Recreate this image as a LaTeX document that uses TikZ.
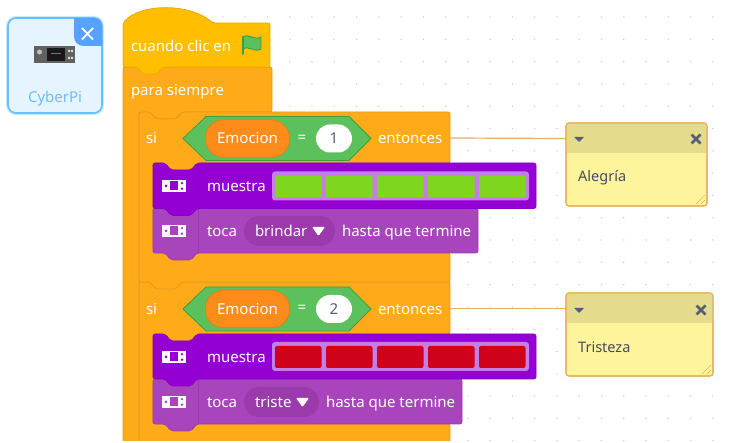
\documentclass[tikz,border=0pt]{standalone}
\usepackage{fontspec}
\setmainfont{Noto Sans}
\definecolor{ctrl}{HTML}{FFAB19}
\definecolor{ctrlb}{HTML}{DD9A1F}
\definecolor{hat}{HTML}{FFBF00}
\definecolor{hatb}{HTML}{E6AC00}
\definecolor{purp}{HTML}{9400D3}
\definecolor{purpd}{HTML}{8A00C4}
\definecolor{lilac}{HTML}{A945BC}
\definecolor{lilacd}{HTML}{9A3AAB}
\definecolor{barbg}{HTML}{C57EE6}
\definecolor{ledg}{HTML}{7FD61E}
\definecolor{ledr}{HTML}{D0021B}
\definecolor{hexf}{HTML}{5CC05C}
\definecolor{hexb}{HTML}{3E9E3E}
\definecolor{varf}{HTML}{FF8C1A}
\definecolor{varb}{HTML}{E67E17}
\definecolor{notef}{HTML}{FEF49C}
\definecolor{noteh}{HTML}{E4DB8C}
\definecolor{noteb}{HTML}{E3B25E}
\definecolor{inkc}{HTML}{575E75}
\definecolor{cardf}{HTML}{E6F4FF}
\definecolor{cardb}{HTML}{66BFFF}
\tikzset{
  blocktxt/.style={anchor=base west,inner sep=0pt,outer sep=0pt,text=white,font=\fontsize{15}{18}\selectfont},
  notetxt/.style={anchor=base west,inner sep=0pt,text=inkc!80!black,font=\fontsize{14.5}{16}\selectfont},
  ctrlblock/.style={fill=ctrl,draw=ctrlb,line width=.8pt,rounded corners=2pt},
  purpblock/.style={fill=purp,draw=purpd,line width=.6pt,rounded corners=2pt},
  lilacblock/.style={fill=lilac,draw=lilacd,line width=.6pt,rounded corners=2pt},
  link/.style={draw=noteb,line width=1.2pt},
  noteheader/.style={rectangle,draw=none,fill=noteh,inner sep=0pt,outer sep=0pt},
  ledcell/.style={rounded corners=2pt,draw=none},
  griddot/.style={fill=black!22,draw=none}
}
\newcommand\devicon[3]{%
  \fill[white] (#1,#2) rectangle ++(24,12);
  \fill[#3] (#1+8,#2+1.5) rectangle ++(8,9);
  \fill[#3] (#1+4,#2+6) circle (1.5);
  \fill[#3] (#1+20,#2+3.2) circle (1.3);
  \fill[#3] (#1+20,#2+8.8) circle (1.3);
}
\newcommand\ledbar[2]{%
  \fill[barbg,rounded corners=3pt] (272,#1) rectangle (529,#1+29);
  \foreach \lx in {275,326,377,428,479}
    \fill[#2,ledcell] (\lx,#1+4) rectangle ++(46.5,22);
}
\newcommand\condition[3]{%
  \filldraw[fill=hexf,draw=hexb,line width=.8pt] (183,#1) -- (206,#1-22) -- (349,#1-22) -- (371,#1) -- (349,#1+22) -- (206,#1+22) -- cycle;
  \node[rectangle,rounded corners=18pt,fill=varf,draw=varb,line width=.8pt,minimum width=84pt,minimum height=37.5pt,inner sep=0pt,text=white,font=\fontsize{15}{18}\selectfont] (#3var) at (247.5,#1) {Emocion};
  \node[inner sep=0pt,text=white,font=\fontsize{15}{18}\selectfont] (#3eq) at (302,#1) {=};
  \node[rectangle,rounded corners=14pt,fill=white,minimum width=36pt,minimum height=28pt,inner sep=0pt,text=inkc,font=\fontsize{15}{18}\selectfont] (#3val) at (334,#1) {#2};
}
\newcommand\notemarks[2]{%
  \fill[inkc,rounded corners=.5pt] (574,#2-2) -- (584,#2-2) -- (579,#2+3) -- cycle;
  \draw[inkc,line width=2.6pt] (#1-4.5,#2-4.5) -- (#1+4.5,#2+4.5) (#1-4.5,#2+4.5) -- (#1+4.5,#2-4.5);
}
\begin{document}
\begin{tikzpicture}[x=1pt,y=-1pt]
\clip (0,0) rectangle (729,443);
\fill[white] (0,0) rectangle (729,443);
% workspace dots
\foreach \i in {10,...,32} \foreach \j in {0,...,19}
  \fill[griddot] (0.2+22.27*\i,17+22.3*\j) circle (.75);
% card
\draw[cardb!35!white,line width=4pt,rounded corners=8pt] (8,18) rectangle (102,113);
\filldraw[fill=cardf,draw=cardb,line width=1.6pt,rounded corners=8pt] (8,18) rectangle (102,113);
\fill[cardb!85!blue] (74,18) -- (94,18) .. controls (99,18) and (102,21) .. (102,26) -- (102,46) -- (84,46) .. controls (78,46) and (74,42) .. (74,36) -- cycle;
\draw[white,line width=1.8pt] (82,28) -- (93,39.5) (93,28) -- (82,39.5);
\fill[black!62] (34,46) rectangle (75,63);
\fill[black!90] (47,48) rectangle (65,61);
\fill[cyan!60!black] (51,53) rectangle (61,54);
\fill[black!25] (39.5,52) circle (2.5);
\fill[white!85!black] (68,50) rectangle (70,52) (71,50) rectangle (73,52) (68,57) rectangle (70,59) (71,57) rectangle (73,59);
\node[inner sep=0pt,text=cardb,font=\fontsize{15}{17}\selectfont] (cyberpi) at (55,98.5) {CyberPi};
\coordinate (entonces1) at (450,138);
\coordinate (entonces2) at (450,308.5);
% second if
\filldraw[ctrlblock] (139,282) -- (450,282) -- (450,334) -- (197,334) -- (191,341) -- (171,341) -- (165,334) -- (153,334) -- (153,424) -- (450,424) -- (450,460) -- (139,460) -- cycle;
% forever
\filldraw[ctrlblock] (123,67) -- (272,67) -- (272,112) -- (182,112) -- (176,119) -- (156,119) -- (150,112) -- (139,112) -- (139,460) -- (123,460) -- cycle;
% hat
\filldraw[fill=hat,draw=hatb,line width=.8pt,rounded corners=2pt] (123,23)
  .. controls (140,3) and (190,3) .. (213,23) -- (270,23) -- (270,67) -- (163,67) -- (157,74) -- (143,74) -- (137,67) -- (123,67) -- cycle;
% first if
\filldraw[ctrlblock] (139,112) -- (150,112) -- (156,119) -- (176,119) -- (182,112) -- (450,112) -- (450,163) -- (197,163) -- (191,170) -- (171,170) -- (165,163) -- (153,163) -- (153,253) -- (450,253) -- (450,282) -- (182,282) -- (176,289) -- (156,289) -- (150,282) -- (139,282) -- cycle;
% first if contents
\node[blocktxt] (hatlabel) at (131,51.3) {cuando clic en};
\filldraw[fill=hexf,draw=hexb,line width=.9pt,line join=round] (243,37) .. controls (249,33) and (254,41) .. (261,37) -- (261,49) .. controls (254,53) and (249,45) .. (243,49) -- cycle;
\draw[hexb,line width=1.8pt,line cap=round] (243,37) -- (243,54);
\node[blocktxt] (forever) at (131,96) {para siempre};
\node[blocktxt] (si1) at (146,144) {si};
\condition{138.5}{1}{a}
\node[blocktxt] (ent1) at (378,144) {entonces};
% toca 1
\filldraw[lilacblock] (153,208) -- (478,208) -- (478,253) -- (197,253) -- (191,260) -- (171,260) -- (165,253) -- (153,253) -- cycle;
\draw[lilacd,line width=.8pt] (198,209) -- (198,253);
\devicon{162}{225}{lilac}
\node[blocktxt] (toca1) at (207,237) {toca};
\node[rectangle,rounded corners=15pt,fill=lilacd,minimum width=91pt,minimum height=30pt,inner sep=0pt] (drop1) at (289.5,231) {};
\node[blocktxt] (brindar) at (255,237) {brindar};
\fill[white,rounded corners=1pt] (312,227) -- (325,227) -- (318.5,236) -- cycle;
\node[blocktxt] (hasta1) at (342,237) {hasta que termine};
% muestra 1
\filldraw[purpblock] (153,163) -- (165,163) -- (171,170) -- (191,170) -- (197,163) -- (536,163) -- (536,208.5) -- (197,208.5) -- (191,215.5) -- (171,215.5) -- (165,208.5) -- (153,208.5) -- cycle;
\draw[purpd,line width=.8pt] (197,164) -- (197,208);
\devicon{162}{180}{purp}
\node[blocktxt] (muestra1) at (207,192) {muestra};
\ledbar{171.5}{ledg}
% second if contents
\node[blocktxt] (si2) at (146,315) {si};
\condition{309}{2}{b}
\node[blocktxt] (ent2) at (378,315) {entonces};
\filldraw[lilacblock] (153,379) -- (462,379) -- (462,424) -- (197,424) -- (191,431) -- (171,431) -- (165,424) -- (153,424) -- cycle;
\draw[lilacd,line width=.8pt] (198,380) -- (198,424);
\devicon{162}{396}{lilac}
\node[blocktxt] (toca2) at (207,408) {toca};
\node[rectangle,rounded corners=15pt,fill=lilacd,minimum width=75pt,minimum height=30pt,inner sep=0pt] (drop2) at (281.5,402) {};
\node[blocktxt] (triste) at (255,408) {triste};
\fill[white,rounded corners=1pt] (296,398) -- (309,398) -- (302.5,407) -- cycle;
\node[blocktxt] (hasta2) at (326,408) {hasta que termine};
\filldraw[purpblock] (153,334) -- (165,334) -- (171,341) -- (191,341) -- (197,334) -- (536,334) -- (536,379) -- (197,379) -- (191,386) -- (171,386) -- (165,379) -- (153,379) -- cycle;
\draw[purpd,line width=.8pt] (197,335) -- (197,378);
\devicon{162}{351}{purp}
\node[blocktxt] (muestra2) at (207,363) {muestra};
\ledbar{342}{ledr}
% notes
\filldraw[fill=notef,draw=noteb,line width=1.1pt,rounded corners=3pt] (566,123) rectangle (707,206);
\node[noteheader,minimum width=140pt,minimum height=30pt] (nota1) at (636.5,138.5) {};
\node[notetxt] (alegria) at (578,181.7) {Alegría};
\notemarks{696}{139}
\draw[noteb,line width=.6pt] (696,204) -- (705,195) (701,204) -- (705,200);
\filldraw[fill=notef,draw=noteb,line width=1.1pt,rounded corners=3pt] (566,293) rectangle (713,376);
\node[noteheader,minimum width=146pt,minimum height=30pt] (nota2) at (639.5,308.5) {};
\node[notetxt] (tristeza) at (578,353) {Tristeza};
\notemarks{701}{310}
\draw[noteb,line width=.6pt] (702,374) -- (711,365) (707,374) -- (711,370);
\draw[noteb,line width=1.1pt,rounded corners=3pt] (566,123) rectangle (707,206);
\draw[noteb,line width=1.1pt,rounded corners=3pt] (566,293) rectangle (713,376);
\draw[link] (entonces1) -- (nota1.west);
\draw[link] (entonces2) -- (nota2.west);
\fill[white] (0,441.3) rectangle (729,443);
\end{tikzpicture}
\end{document}
